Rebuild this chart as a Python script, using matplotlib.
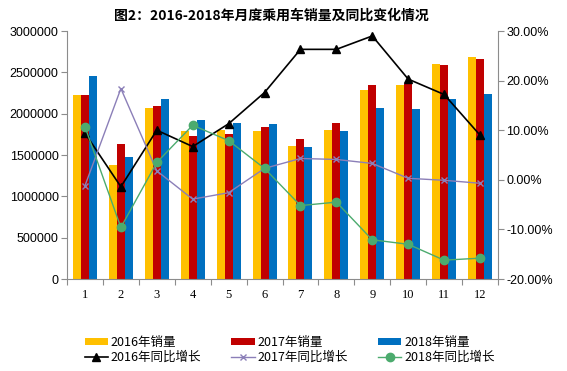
import matplotlib
matplotlib.use("Agg")
import matplotlib.pyplot as plt
import numpy as np
from matplotlib.ticker import FuncFormatter, FixedLocator

plt.rcParams['font.family'] = ['Noto Sans CJK SC', 'DejaVu Sans']

months = [1, 2, 3, 4, 5, 6, 7, 8, 9, 10, 11, 12]
sales_2016 = [2226000, 1379000, 2065000, 1790000, 1800000, 1790000,
              1613000, 1800000, 2282000, 2343000, 2601000, 2682000]
sales_2017 = [2226000, 1637000, 2097000, 1730000, 1754000, 1843000,
              1690000, 1883000, 2343000, 2359000, 2589000, 2658000]
sales_2018 = [2456000, 1480000, 2177000, 1923000, 1891000, 1879000,
              1600000, 1790000, 2065000, 2053000, 2177000, 2238000]
yoy_2016 = [9.4, -1.4, 10.0, 6.7, 11.3, 17.6, 26.3, 26.3, 29.0, 20.3, 17.2, 9.0]
yoy_2017 = [-1.2, 18.4, 1.8, -3.9, -2.6, 2.3, 4.3, 4.1, 3.3, 0.3, -0.1, -0.7]
yoy_2018 = [10.7, -9.6, 3.5, 11.0, 7.9, 2.3, -5.2, -4.5, -12.1, -13.0, -16.2, -15.8]

sales_labels = ['2016年销量', '2017年销量', '2018年销量']
yoy_labels = ['2016年同比增长', '2017年同比增长', '2018年同比增长']
title = '图2：2016-2018年月度乘用车销量及同比变化情况'

bar_colors = ['#FFC000', '#C00000', '#0070C0']
axis_gray = '#8C8C8C'

fig = plt.figure(figsize=(5.67, 3.71), dpi=100)
ax = fig.add_axes([67 / 567, 1 - 279 / 371, 431 / 567, 248 / 371])
x = np.array(months)
w = 0.222

bars = []
for i, (vals, c, lab) in enumerate(zip([sales_2016, sales_2017, sales_2018],
                                       bar_colors, sales_labels)):
    b = ax.bar(x + (i - 1) * w, vals, width=w, color=c, label=lab, zorder=2)
    bars.append(b)

ax.set_xlim(0.5, 12.5)
ax.set_ylim(0, 3000000)
ax.set_yticks(np.arange(0, 3000001, 500000))
ax.yaxis.set_major_formatter(FuncFormatter(lambda v, p: f"{int(v)}"))
# ticks sit between the months, labels in the middle
ax.xaxis.set_major_locator(FixedLocator(np.arange(0.5, 13, 1)))
ax.xaxis.set_minor_locator(FixedLocator(x))
ax.xaxis.set_major_formatter(FuncFormatter(lambda v, p: ""))
ax.set_xticklabels([str(m) for m in months], minor=True,
                   family='Liberation Serif', fontsize=9)
ax.tick_params(axis='x', which='major', length=4, color=axis_gray, direction='out')
ax.tick_params(axis='x', which='minor', length=0, pad=7)
ax.tick_params(axis='y', length=4, color=axis_gray, pad=2, labelsize=9)
for lbl in ax.get_yticklabels():
    lbl.set_family('Liberation Sans')

for s in ['top', 'right']:
    ax.spines[s].set_visible(False)
for s in ['left', 'bottom']:
    ax.spines[s].set_color(axis_gray)

ax2 = ax.twinx()
l1, = ax2.plot(x, yoy_2016, color='black', lw=1.2, marker='^', ms=5.5,
               label=yoy_labels[0], zorder=3)
l2, = ax2.plot(x, yoy_2017, color='#8B7FB8', lw=1.0, marker='x', ms=4,
               mew=1.0, label=yoy_labels[1], zorder=3)
l3, = ax2.plot(x, yoy_2018, color='#4CAB6E', lw=1.0, marker='o', ms=6,
               label=yoy_labels[2], zorder=4)
ax2.set_ylim(-20, 30)
ax2.set_yticks(np.arange(-20, 31, 10))
ax2.yaxis.set_major_formatter(FuncFormatter(lambda v, p: f"{v:.2f}%"))
ax2.tick_params(axis='y', length=4, color=axis_gray, pad=2, labelsize=9)
for lbl in ax2.get_yticklabels():
    lbl.set_family('Liberation Sans')
for s in ['top', 'left', 'bottom']:
    ax2.spines[s].set_visible(False)
ax2.spines['right'].set_color(axis_gray)

fig.text(0.478, 1 - 16 / 371, title, ha='center', va='center',
         fontsize=10, fontweight='bold')

handles = [bars[0], l1, bars[1], l2, bars[2], l3]
labels = [sales_labels[0], yoy_labels[0], sales_labels[1], yoy_labels[1],
          sales_labels[2], yoy_labels[2]]
fig.legend(handles, labels, ncol=3, loc='center', bbox_to_anchor=(0.511, 1 - 350 / 371),
           frameon=False, fontsize=9, handlelength=1.85, handleheight=0.5,
           handletextpad=0.25, columnspacing=2.4, labelspacing=0.15,
           borderpad=0)

fig.savefig('out.png', dpi=100)
